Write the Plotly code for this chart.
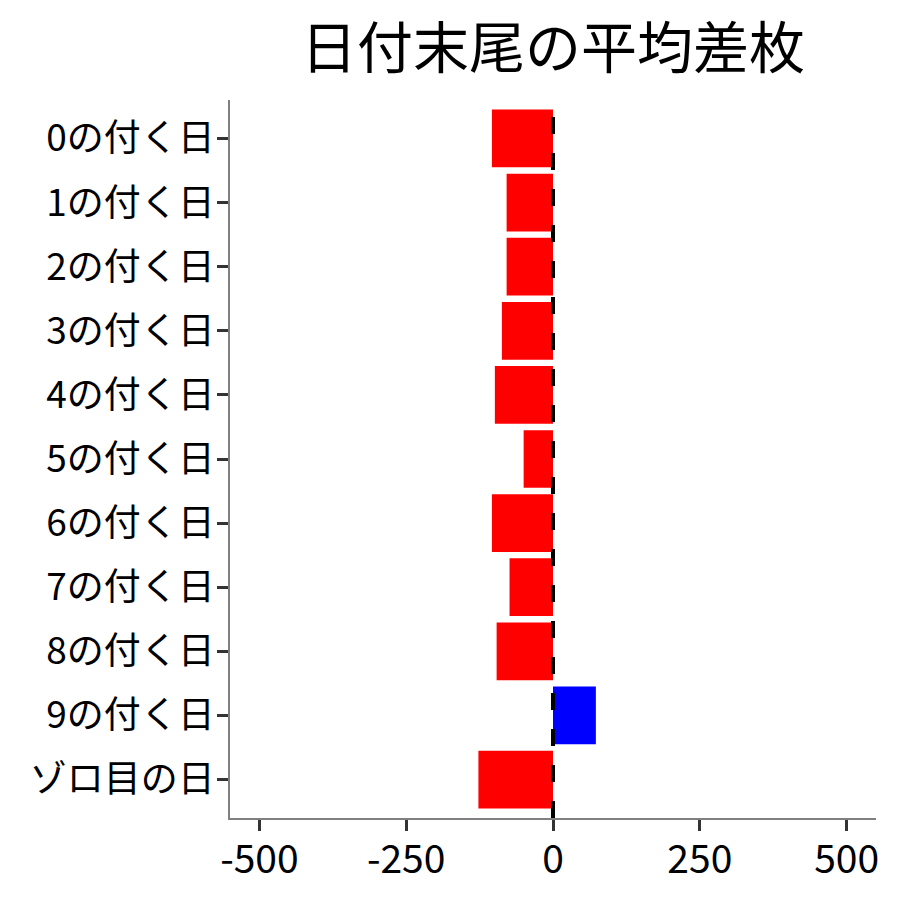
import plotly.graph_objects as go

# 日付末尾ごとの平均差枚
labels = [
    "0の付く日", "1の付く日", "2の付く日", "3の付く日", "4の付く日",
    "5の付く日", "6の付く日", "7の付く日", "8の付く日", "9の付く日", "ゾロ目の日",
]
avg_diff = [-104, -79, -79, -87, -99, -50, -104, -74, -96, 73, -127]
x_ticks = [-500, -250, 0, 250, 500]

FONT = "Noto Sans CJK JP"

colors = ["blue" if v > 0 else "red" for v in avg_diff]

fig = go.Figure()

fig.add_trace(
    go.Bar(
        x=avg_diff,
        y=labels,
        orientation="h",
        width=0.9,
        marker={"color": colors, "line": {"width": 0}},
        showlegend=False,
    )
)

# 0の位置に破線
fig.add_shape(
    type="line",
    x0=0, x1=0, y0=0, y1=1,
    xref="x", yref="paper",
    line={"color": "black", "width": 4, "dash": "17px,19px"},
    layer="above",
)

# 軸の共通設定
axis_style = {
    "showgrid": False,
    "zeroline": False,
    "showline": True,
    "linecolor": "#808080",
    "linewidth": 1.5,
    "ticks": "outside",
    "ticklen": 11,
    "tickwidth": 3,
    "tickcolor": "#333333",
    "ticklabelstandoff": -5,
}

fig.update_layout(
    width=900,
    height=900,
    title={
        "text": "日付末尾の平均差枚",
        "x": 0.5,
        "xref": "paper",
        "xanchor": "center",
        "y": 0.955,
        "yanchor": "middle",
        "font": {"family": FONT, "size": 56, "color": "black"},
    },
    font={"family": FONT, "color": "black"},
    plot_bgcolor="white",
    paper_bgcolor="white",
    margin={"l": 222, "r": 32, "t": 92, "b": 90},
    bargap=0.1,
    xaxis={
        **axis_style,
        "range": [-550, 550],
        "tickvals": x_ticks,
        "ticktext": [str(v) for v in x_ticks],
        "tickfont": {"family": FONT, "size": 39, "color": "black"},
    },
    yaxis={
        **axis_style,
        "categoryorder": "array",
        "categoryarray": labels,
        "range": [10.6, -0.6],
        "tickfont": {"family": FONT, "size": 37, "color": "black"},
    },
)

fig.write_html("out.html")
